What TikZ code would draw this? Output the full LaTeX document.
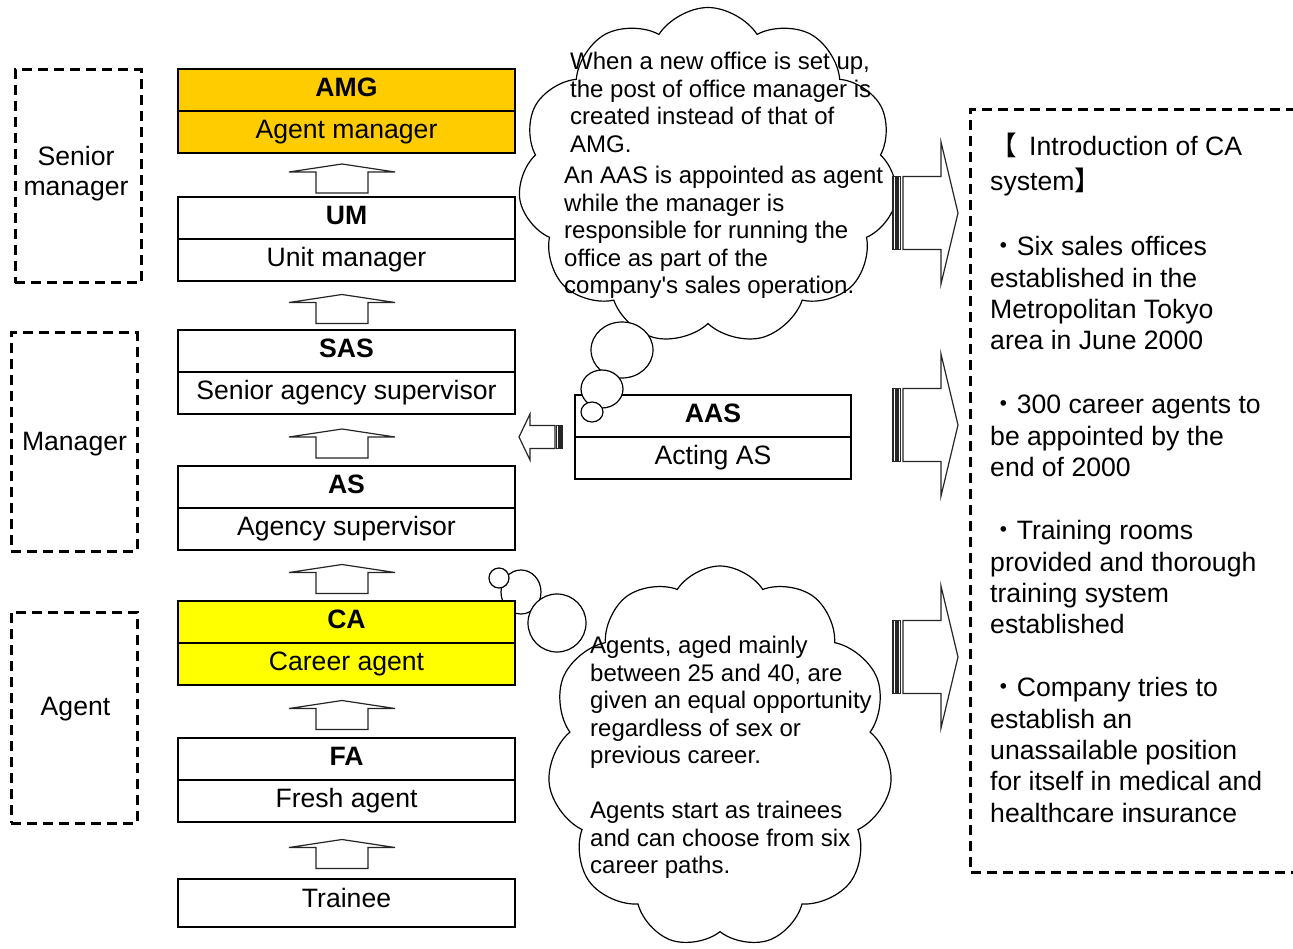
\documentclass[tikz,border=0pt]{standalone}
\usepackage{fontspec}
\setmainfont{Liberation Sans}
\newfontfamily\cjk{Noto Sans CJK JP}
\usetikzlibrary{shapes.symbols,calc}
\definecolor{amgcol}{HTML}{FFCC00}
\definecolor{cacol}{HTML}{FFFF00}
\newcommand{\fsbox}{\fontsize{26.6}{31.3}\selectfont}
\newcommand{\fscloud}{\fontsize{24}{27.5}\selectfont}
\begin{document}
\begin{tikzpicture}[x=1pt,y=-1pt,
  half/.style={draw=black,line width=1.6pt,minimum width=337pt,minimum height=42pt,
    inner sep=0pt,outer sep=0pt,text height=19pt,text depth=5.5pt,font=\fsbox,anchor=north},
  grp/.style={draw=black,line width=3pt,dash pattern=on 10pt off 6pt,inner sep=0pt},
  lbl/.style={font=\fsbox,align=center,inner sep=0pt},
  ctxt/.style={font=\fscloud,align=left,inner sep=0pt,anchor=north west},
  rtxt/.style={font=\fsbox,align=left,inner sep=0pt,anchor=north west},
  cloudy/.style={cloud,cloud puffs=11,cloud puff arc=115,cloud ignores aspect,
    draw=black,fill=white,line width=1.2pt,inner sep=0pt},
  bub/.style={draw=black,fill=white,line width=1.2pt},
  arrline/.style={draw=black!85,fill=white,line width=1.2pt},
  uparr/.pic={\draw[arrline] (-26,18) -- (-26,-3) -- (-53,-3) -- (0,-11) -- (53,-3)
     -- (26,-3) -- (26,18) -- cycle;},
  rarr/.pic={\draw[arrline] (0,-36.5) rectangle (3,36.5);
     \draw[arrline] (5,-36.5) rectangle (7.5,36.5);
     \draw[arrline] (10,-36.5) -- (48,-36.5) -- (48,-71) -- (65,0) -- (48,71)
     -- (48,36.5) -- (10,36.5) -- cycle;},
  larr/.pic={\draw[arrline] (0,0) -- (11,-23) -- (11,-11.5) -- (36,-11.5) -- (36,11.5)
     -- (11,11.5) -- (11,23) -- cycle;
     \draw[arrline] (37.5,-11.5) rectangle (39.5,11.5);
     \draw[arrline] (41,-11.5) rectangle (43,11.5);}
]
\useasboundingbox (0,0) rectangle (1293,949);
\clip (0,0) rectangle (1293,949);

% clouds
\node[cloudy,minimum width=380pt,minimum height=337pt] (cloudtop) at (708,176) {};
\node[cloudy,minimum width=345pt,minimum height=382pt] (cloudbot) at (720,757) {};

% left group boxes
\node[grp,minimum width=126pt,minimum height=213pt] (gsen) at (78,176.5) {};
\node[grp,minimum width=126pt,minimum height=218pt] (gman) at (74,442) {};
\node[grp,minimum width=126pt,minimum height=211pt] (gagt) at (74,717.5) {};
\node[lbl] (lsen) at (76,174) {Senior\\[-1.3pt]manager};
\node[lbl] (lman) at (74.5,443.9) {Manager};
\node[lbl] (lagt) at (75.5,708.9) {Agent};

% right dashed box
\node[grp,minimum width=341pt,minimum height=763pt,anchor=north west] (rbox) at (969,108) {};

% bottom thought bubbles (behind CA box)
\draw[bub] (521,592) ellipse [x radius=20, y radius=22];
\draw[bub] (499,578) ellipse [x radius=10, y radius=10];
\draw[bub] (557,623) ellipse [x radius=29, y radius=29];

% career ladder
\node[half,fill=amgcol] (amgT) at (346.5,69) {\bfseries AMG};
\node[half,fill=amgcol] (amgB) at (amgT.south) {Agent manager};
\node[half] (umT) at (346.5,197) {\bfseries UM};
\node[half] (umB) at (umT.south) {Unit manager};
\node[half] (sasT) at (346.5,330) {\bfseries SAS};
\node[half] (sasB) at (sasT.south) {Senior agency supervisor};
\node[half] (asT) at (346.5,466) {\bfseries AS};
\node[half] (asB) at (asT.south) {Agency supervisor};
\node[half,fill=cacol] (caT) at (346.5,601) {\bfseries CA};
\node[half,fill=cacol] (caB) at (caT.south) {Career agent};
\node[half] (faT) at (346.5,738) {\bfseries FA};
\node[half] (faB) at (faT.south) {Fresh agent};
\node[half,minimum height=48pt,text depth=10pt] (trn) at (346.5,879) {Trainee};

% up arrows
\pic at ($(amgB.south)!0.5!(umT.north)+(-4.5,0)$) {uparr};
\pic at ($(umB.south)!0.5!(sasT.north)+(-4.5,0)$) {uparr};
\pic at ($(sasB.south)!0.5!(asT.north)+(-4.5,0)$) {uparr};
\pic at ($(asB.south)!0.5!(caT.north)+(-4.5,0)$) {uparr};
\pic at ($(caB.south)!0.5!(faT.north)+(-4.5,0)$) {uparr};
\pic at ($(faB.south)!0.5!(trn.north)+(-4.5,0)$) {uparr};

% AAS box
\node[half,minimum width=276pt] (aasT) at (713,395) {\bfseries AAS};
\node[half,minimum width=276pt] (aasB) at (aasT.south) {Acting AS};
\pic at (519,437) {larr};

% top thought bubbles
\draw[bub] (622,350) ellipse [x radius=31, y radius=28];
\draw[bub] (602,389) ellipse [x radius=21, y radius=19];
\draw[bub] (592,412) ellipse [x radius=11, y radius=10];

% right arrows
\pic at (893,213) {rarr};
\pic at (893,425) {rarr};
\pic at (893,657) {rarr};

% cloud texts
\node[ctxt] (ct1) at (570,51.6) {\rule{0pt}{18pt}When a new office is set up,\\the post of office manager is\\created instead of that of\\AMG.};
\node[ctxt] (ct2) at (564,165.6) {\rule{0pt}{18pt}An AAS is appointed as agent\\while the manager is\\responsible for running the\\office as part of the\\company\textquotesingle s sales operation.};
\node[ctxt] (cb1) at (590,635.6) {\rule{0pt}{18pt}Agents, aged mainly\\between 25 and 40, are\\given an equal opportunity\\regardless of sex or\\previous career.};
\node[ctxt] (cb2) at (590,800.6) {\rule{0pt}{18pt}Agents start as trainees\\and can choose from six\\career paths.};

% right box texts
\node[rtxt,font=\fontsize{26.6}{35}\selectfont] (r1) at (990,131.6) {\rule{0pt}{24pt}{\cjk 【}\hspace{5pt} Introduction of CA\\system{\cjk 】}};
\node[rtxt] (r2) at (990,235.6) {\rule{0pt}{20pt}{\cjk ・}Six sales offices\\established in the\\Metropolitan Tokyo\\area in June 2000};
\node[rtxt] (r3) at (990,393.6) {\rule{0pt}{20pt}{\cjk ・}300 career agents to\\be appointed by the\\end of 2000};
\node[rtxt] (r4) at (990,519.6) {\rule{0pt}{20pt}{\cjk ・}Training rooms\\provided and thorough\\training system\\established};
\node[rtxt] (r5) at (990,676.6) {\rule{0pt}{20pt}{\cjk ・}Company tries to\\establish an\\unassailable position\\for itself in medical and\\healthcare insurance};
\end{tikzpicture}
\end{document}
